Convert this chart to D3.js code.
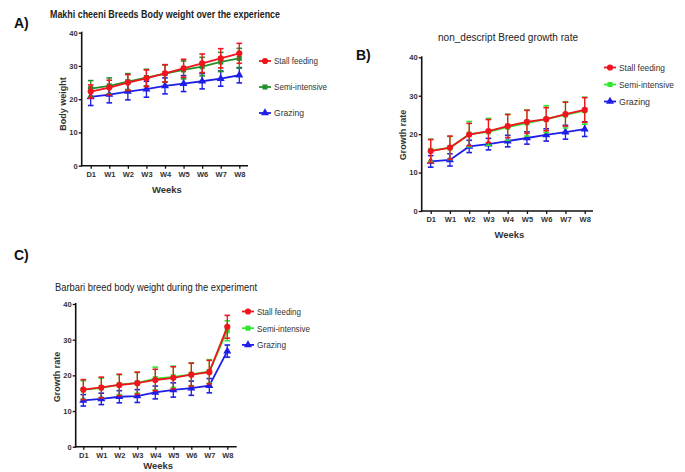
<!DOCTYPE html>
<html>
<head>
<meta charset="utf-8">
<script src="https://cdn.jsdelivr.net/npm/d3@7"></script>
<style>
  body { margin: 0; background: #fff; }
  svg { display: block; font-family: Arial, "Liberation Sans", sans-serif; }
  .tick text { font-size: 7.5px; font-weight: bold; fill: #333; }
</style>
</head>
<body>
<svg id="chart" width="685" height="472"></svg>
<script>
// semanas / categorias
const semanas = ["D1", "W1", "W2", "W3", "W4", "W5", "W6", "W7", "W8"];
const series = ["Stall feeding", "Semi-intensive", "Grazing"];
const yTicks = [0, 10, 20, 30, 40];

// A) Makhi cheeni
const makhiStall = [22.3, 23.5, 25.0, 26.3, 27.8, 29.3, 30.8, 32.3, 33.8];
const makhiSemi = [23.2, 24.0, 25.3, 26.5, 27.7, 28.8, 29.8, 31.2, 32.3];
const makhiGraz = [20.7, 21.4, 22.3, 23.0, 24.0, 24.7, 25.4, 26.2, 27.2];
const makhiStallErr = [2.0, 2.2, 2.4, 2.5, 2.6, 2.7, 2.8, 2.9, 3.0];
const makhiSemiErr = [2.4, 2.4, 2.4, 2.5, 2.6, 2.7, 2.8, 2.9, 3.0];
const makhiGrazErr = [2.6, 2.5, 2.5, 2.4, 2.4, 2.4, 2.3, 2.3, 2.3];

// B) non_descript
const nonStall = [15.6, 16.5, 19.9, 20.8, 22.1, 23.2, 23.9, 25.2, 26.3];
const nonSemi = [15.8, 16.4, 20.0, 20.6, 21.8, 22.9, 23.9, 25.0, 26.1];
const nonGraz = [12.9, 13.3, 16.8, 17.4, 18.2, 19.0, 19.8, 20.5, 21.3];
const nonStallErr = [3.0, 3.0, 2.9, 3.0, 3.0, 3.0, 3.0, 3.1, 3.2];
const nonSemiErr = [2.9, 3.0, 3.3, 3.5, 3.4, 3.4, 3.5, 3.4, 3.5];
const nonGrazErr = [1.5, 1.6, 1.6, 1.5, 1.5, 1.6, 1.6, 1.8, 1.9];

// C) Barbari
const barbStall = [16.0, 16.6, 17.3, 17.8, 18.7, 19.3, 20.2, 20.9, 33.6];
const barbSemi = [15.9, 16.5, 17.4, 17.9, 19.1, 19.6, 20.3, 21.1, 32.5];
const barbGraz = [13.0, 13.4, 14.0, 14.2, 15.2, 15.9, 16.4, 17.1, 26.8];
const barbStallErr = [2.8, 2.9, 3.0, 3.1, 3.0, 3.1, 3.2, 3.3, 3.2];
const barbSemiErr = [2.6, 2.7, 2.8, 2.9, 3.2, 3.0, 3.2, 3.3, 2.8];
const barbGrazErr = [1.6, 1.6, 1.7, 1.8, 1.8, 2.0, 2.0, 2.0, 1.7];

const svg = d3.select("#chart");
const ROJO = "#f0141e";
const AZUL = "#1e1ee6";

const simbolos = [d3.symbolCircle, d3.symbolSquare, d3.symbolTriangle];
const tamanos = [30, 26, 28];

function dibujarPanel(cfg) {
  const g = svg.append("g");
  const x = d3.scalePoint().domain(semanas).range(cfg.xRange);
  const y = d3.scaleLinear().domain([0, 40]).range(cfg.yRange);

  // ejes
  const ejeY = g.append("g")
    .attr("transform", `translate(${cfg.ejeX},0)`)
    .call(d3.axisLeft(y).tickValues(yTicks).tickSize(3).tickPadding(1).tickSizeOuter(0));
  ejeY.select(".domain").remove();
  ejeY.selectAll(".tick line").attr("stroke", "#111").attr("stroke-width", 1.3);

  const ejeXg = g.append("g")
    .attr("transform", `translate(0,${cfg.yRange[0]})`)
    .call(d3.axisBottom(x).tickSize(3).tickPadding(3));
  ejeXg.select(".domain").remove();
  ejeXg.selectAll(".tick line").attr("stroke", "#111").attr("stroke-width", 1.3);

  g.append("line")
    .attr("x1", cfg.ejeX).attr("x2", cfg.ejeX)
    .attr("y1", cfg.yRange[1] - 1).attr("y2", cfg.yRange[0] + 0.7)
    .attr("stroke", "#111").attr("stroke-width", 1.6);
  g.append("line")
    .attr("x1", cfg.ejeX - 0.8).attr("x2", cfg.ejeFin)
    .attr("y1", cfg.yRange[0]).attr("y2", cfg.yRange[0])
    .attr("stroke", "#111").attr("stroke-width", 1.6);

  // textos
  g.append("text")
    .attr("x", (cfg.ejeX + cfg.ejeFin) / 2 + 2).attr("y", cfg.yRange[0] + cfg.weeksDy)
    .attr("text-anchor", "middle")
    .attr("font-size", 9.5).attr("font-weight", "bold").attr("fill", "#333")
    .text("Weeks");

  g.append("text")
    .attr("transform", `translate(${cfg.yLabelX},${cfg.yLabelY}) rotate(-90)`)
    .attr("text-anchor", "middle")
    .attr("font-size", 9).attr("font-weight", "bold").attr("fill", "#333")
    .text(cfg.yLabel);

  g.append("text")
    .attr("x", cfg.titulo.x).attr("y", cfg.titulo.y)
    .attr("font-size", 10).attr("font-weight", cfg.titulo.peso)
    .attr("fill", "#222")
    .attr("textLength", cfg.titulo.ancho).attr("lengthAdjust", "spacingAndGlyphs")
    .text(cfg.titulo.texto);

  g.append("text")
    .attr("x", cfg.letra.x).attr("y", cfg.letra.y)
    .attr("font-size", 14).attr("font-weight", "bold").attr("fill", "#111")
    .text(cfg.letra.texto);

  // series (grazing abajo, stall arriba)
  const linea = d3.line().x((d, i) => x(semanas[i])).y(d => y(d));
  [2, 1, 0].forEach(s => {
    const vals = cfg.valores[s];
    const errs = cfg.errores[s];
    const color = cfg.colores[s];
    const sg = g.append("g");

    semanas.forEach((w, i) => {
      const cx = x(w);
      const yt = y(vals[i] + errs[i]);
      const yb = y(vals[i] - errs[i]);
      sg.append("line").attr("x1", cx).attr("x2", cx).attr("y1", yt).attr("y2", yb)
        .attr("stroke", color).attr("stroke-width", 1.3);
      [yt, yb].forEach(yy => {
        sg.append("line").attr("x1", cx - 2.8).attr("x2", cx + 2.8).attr("y1", yy).attr("y2", yy)
          .attr("stroke", color).attr("stroke-width", 1.6);
      });
    });

    sg.append("path").datum(vals)
      .attr("d", linea)
      .attr("fill", "none").attr("stroke", color).attr("stroke-width", 1.8);

    sg.selectAll("path.mk").data(vals).join("path")
      .attr("class", "mk")
      .attr("transform", (d, i) => `translate(${x(semanas[i])},${y(d)})`)
      .attr("d", d3.symbol(simbolos[s], tamanos[s]))
      .attr("fill", color);
  });

  // leyenda
  series.forEach((nombre, s) => {
    const lx = cfg.leyenda.x;
    const ly = cfg.leyenda.y + s * cfg.leyenda.paso;
    g.append("line").attr("x1", lx - 6).attr("x2", lx + 6).attr("y1", ly).attr("y2", ly)
      .attr("stroke", cfg.colores[s]).attr("stroke-width", 1.8);
    g.append("path")
      .attr("transform", `translate(${lx},${ly})`)
      .attr("d", d3.symbol(simbolos[s], tamanos[s]))
      .attr("fill", cfg.colores[s]);
    g.append("text")
      .attr("x", lx + 9).attr("y", ly + 3.3)
      .attr("font-size", 9).attr("fill", "#333")
      .attr("textLength", cfg.leyenda.anchos[s]).attr("lengthAdjust", "spacingAndGlyphs")
      .text(nombre);
  });
}

dibujarPanel({
  xRange: [90.7, 239.3], yRange: [165.7, 32.7], ejeX: 81.7, ejeFin: 248, weeksDy: 27,
  yLabel: "Body weight", yLabelX: 66, yLabelY: 104,
  titulo: { texto: "Makhi cheeni Breeds Body weight over the experience", x: 50, y: 18, ancho: 230, peso: "bold" },
  letra: { texto: "A)", x: 14, y: 28 },
  valores: [makhiStall, makhiSemi, makhiGraz],
  errores: [makhiStallErr, makhiSemiErr, makhiGrazErr],
  colores: [ROJO, "#25902a", AZUL],
  leyenda: { x: 265, y: 61, paso: 26, anchos: [44, 53, 30] }
});

dibujarPanel({
  xRange: [430.7, 584.7], yRange: [211, 57.3], ejeX: 421.7, ejeFin: 593, weeksDy: 27,
  yLabel: "Growth rate", yLabelX: 406, yLabelY: 135,
  titulo: { texto: "non_descript Breed growth rate", x: 438, y: 41, ancho: 140, peso: "normal" },
  letra: { texto: "B)", x: 356, y: 60 },
  valores: [nonStall, nonSemi, nonGraz],
  errores: [nonStallErr, nonSemiErr, nonGrazErr],
  colores: [ROJO, "#30e830", AZUL],
  leyenda: { x: 610, y: 67.5, paso: 17, anchos: [46, 55, 31] }
});

dibujarPanel({
  xRange: [83.3, 227.3], yRange: [446.7, 304], ejeX: 75.7, ejeFin: 236.7, weeksDy: 22,
  yLabel: "Growth rate", yLabelX: 60, yLabelY: 377,
  titulo: { texto: "Barbari breed body weight during the experiment", x: 55, y: 291, ancho: 202, peso: "normal" },
  letra: { texto: "C)", x: 14, y: 260 },
  valores: [barbStall, barbSemi, barbGraz],
  errores: [barbStallErr, barbSemiErr, barbGrazErr],
  colores: [ROJO, "#30e830", AZUL],
  leyenda: { x: 248, y: 311.5, paso: 16.7, anchos: [44, 53, 29] }
});
</script>
</body>
</html>
